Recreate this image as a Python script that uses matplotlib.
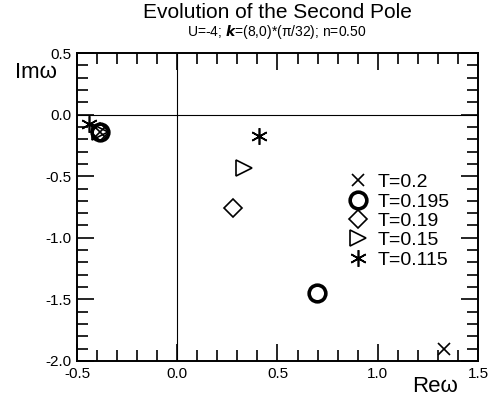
import matplotlib
matplotlib.use("Agg")
import matplotlib.pyplot as plt
from matplotlib.ticker import MultipleLocator, FormatStrFormatter

plt.rcParams['font.family'] = ['Liberation Sans', 'DejaVu Sans']

labels = ["T=0.2", "T=0.195", "T=0.19", "T=0.15", "T=0.115"]
re_vals = [[-0.385, 1.33], [-0.385, 0.695], [-0.385, 0.28], [-0.385, 0.335], [-0.44, 0.41]]
im_vals = [[-0.14, -1.90], [-0.14, -1.45], [-0.14, -0.76], [-0.14, -0.43], [-0.08, -0.175]]

fig = plt.figure(figsize=(4.92, 4.01), dpi=100)
ax = fig.add_axes([0.1565, 0.0998, 0.815, 0.768])

styles = [
    dict(marker="x", ms=9, mew=1.2, mfc="none"),
    dict(marker="o", ms=12, mew=2.6, mfc="none"),
    dict(marker="D", ms=9, mew=1.2, mfc="none"),
    dict(marker=">", ms=11, mew=1.2, mfc="none"),
    dict(marker=(6, 2, 0), ms=12, mew=1.2, mfc="none"),
]
for lab, xs, ys, st in zip(labels, re_vals, im_vals, styles):
    ax.plot(xs, ys, ls="none", color="black", mec="black", label=lab, **st)

ax.axhline(0, color="black", lw=0.8)
ax.axvline(0, color="black", lw=0.8)

ax.set_xlim(-0.5, 1.5)
ax.set_ylim(-2.0, 0.5)
ax.xaxis.set_major_locator(MultipleLocator(0.5))
ax.xaxis.set_minor_locator(MultipleLocator(0.1))
ax.yaxis.set_major_locator(MultipleLocator(0.5))
ax.yaxis.set_minor_locator(MultipleLocator(0.1))
ax.xaxis.set_major_formatter(FormatStrFormatter('%.1f'))
ax.yaxis.set_major_formatter(FormatStrFormatter('%.1f'))
ax.tick_params(which='both', direction='in', top=True, right=True, labelsize=11, width=1.2)
ax.tick_params(which='major', length=12)
ax.tick_params(axis='x', which='major', pad=4.5)
ax.tick_params(axis='y', which='major', pad=4)
ax.tick_params(which='minor', length=8)
for s in ax.spines.values():
    s.set_linewidth(1.4)

fig.text(0.563, 0.969, "Evolution of the Second Pole", ha="center", va="center", fontsize=15)
fig.text(0.563, 0.921, r"U=-4; $\boldsymbol{k}$=(8,0)*(π/32); n=0.50", ha="center", va="center", fontsize=10)
fig.text(0.03, 0.82, "Imω", ha="left", va="center", fontsize=16)
fig.text(0.837, 0.035, "Reω", ha="left", va="center", fontsize=16)

leg = ax.legend(loc="upper left", bbox_to_anchor=(0.653, 0.64), frameon=False, fontsize=14,
                handlelength=1.0, handletextpad=0.5, labelspacing=0.09, borderpad=0)

fig.savefig("out.png", dpi=100)
